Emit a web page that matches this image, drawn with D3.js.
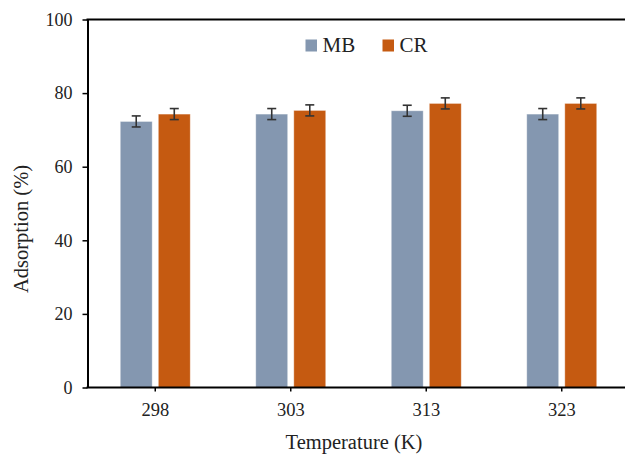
<!DOCTYPE html>
<html><head><meta charset="utf-8">
<script src="https://cdn.jsdelivr.net/npm/d3@7"></script>
<style>body{margin:0;background:#fff}svg{display:block}</style>
</head><body><svg id="c" width="625" height="456"></svg>
<script>
const categories = ["298", "303", "313", "323"];
const seriesNames = ["MB", "CR"];
const mbValues = [72.3, 74.3, 75.2, 74.3];
const crValues = [74.3, 75.3, 77.2, 77.2];
const mbErrors = [1.5, 1.5, 1.5, 1.5];
const crErrors = [1.5, 1.5, 1.5, 1.5];
const yTicks = [0, 20, 40, 60, 80, 100];
const colors = {MB: "#8497B0", CR: "#C55A11"};

const FONT = "'Liberation Serif', 'Times New Roman', Times, 'DejaVu Serif', serif";
const svg = d3.select("#c");
const plotLeft = 87.5, plotTop = 19.5, plotBottom = 387.5, step = 135.5;
const x = d3.scaleBand().domain(categories).range([plotLeft, plotLeft + step * categories.length]).paddingInner(0).paddingOuter(0);
const xs = d3.scaleBand().domain(seriesNames).range([-35, 35]).paddingInner(0.16);
const y = d3.scaleLinear().domain([0, 100]).range([plotBottom, plotTop]);

const data = categories.map((c, i) => ({
  cat: c,
  vals: [
    {s: "MB", v: mbValues[i], e: mbErrors[i]},
    {s: "CR", v: crValues[i], e: crErrors[i]}
  ]
}));

const g = svg.selectAll("g.grp").data(data).join("g").attr("class", "grp")
  .attr("transform", d => `translate(${x(d.cat) + x.bandwidth() / 2},0)`);
g.selectAll("rect").data(d => d.vals).join("rect")
  .attr("x", d => xs(d.s))
  .attr("width", xs.bandwidth())
  .attr("y", d => y(d.v))
  .attr("height", d => y(0) - y(d.v))
  .attr("fill", d => colors[d.s])
  .attr("stroke", "#fff").attr("stroke-opacity", 0.5).attr("stroke-width", 0.8);
const eb = g.selectAll("g.eb").data(d => d.vals).join("g").attr("class", "eb")
  .attr("transform", d => `translate(${xs(d.s) + xs.bandwidth() / 2},0)`)
  .attr("stroke", "#333").attr("stroke-width", 1.6);
eb.append("line").attr("x1", 0).attr("x2", 0).attr("y1", d => y(d.v + d.e)).attr("y2", d => y(d.v - d.e));
eb.append("line").attr("x1", -4.5).attr("x2", 4.5).attr("y1", d => y(d.v + d.e)).attr("y2", d => y(d.v + d.e));
eb.append("line").attr("x1", -4.5).attr("x2", 4.5).attr("y1", d => y(d.v - d.e)).attr("y2", d => y(d.v - d.e));

// axes
const yAxis = svg.append("g").attr("transform", `translate(${plotLeft},0)`)
  .call(d3.axisLeft(y).tickValues(yTicks).tickSize(5).tickPadding(10).tickSizeOuter(0));
yAxis.attr("font-family", FONT).attr("font-size", 18);
yAxis.select(".domain").attr("stroke", "#000").attr("stroke-width", 2);
yAxis.selectAll(".tick line").attr("stroke", "#000").attr("stroke-width", 1.5);
yAxis.selectAll(".tick text").style("font-family", FONT).style("font-size", "18px").attr("fill", "#222");

const xAxis = svg.append("g").attr("transform", `translate(0,${plotBottom})`)
  .call(d3.axisBottom(x).tickSize(4).tickPadding(11).tickSizeOuter(0));
xAxis.attr("font-family", FONT).attr("font-size", 18);
xAxis.select(".domain").attr("stroke", "#000").attr("stroke-width", 2).attr("d", `M${plotLeft - 1},0H625`);
xAxis.selectAll(".tick line").attr("stroke", "#000").attr("stroke-width", 1.5);
xAxis.selectAll(".tick text").style("font-family", FONT).style("font-size", "18.5px").attr("fill", "#222");

// top frame
svg.append("line").attr("x1", plotLeft - 1).attr("x2", 625).attr("y1", plotTop).attr("y2", plotTop)
  .attr("stroke", "#000").attr("stroke-width", 2);

// titles
svg.append("text").attr("x", 354).attr("y", 449).attr("text-anchor", "middle")
  .style("font-family", FONT).style("font-size", "20.5px").attr("fill", "#222").text("Temperature (K)");
svg.append("text").attr("transform", "translate(28,229) rotate(-90)").attr("text-anchor", "middle")
  .style("font-family", FONT).style("font-size", "20.5px").attr("fill", "#222").text("Adsorption (%)");

// legend
const legX = [305.5, 382.5];
const leg = svg.selectAll("g.leg").data(seriesNames).join("g").attr("class", "leg")
  .attr("transform", (d, i) => `translate(${legX[i]},39.5)`);
leg.append("rect").attr("width", 11.5).attr("height", 12).attr("fill", d => colors[d]);
leg.append("text").attr("x", 17).attr("y", 12.5).style("font-family", FONT).style("font-size", "21px").attr("fill", "#222").text(d => d);
</script></body></html>
